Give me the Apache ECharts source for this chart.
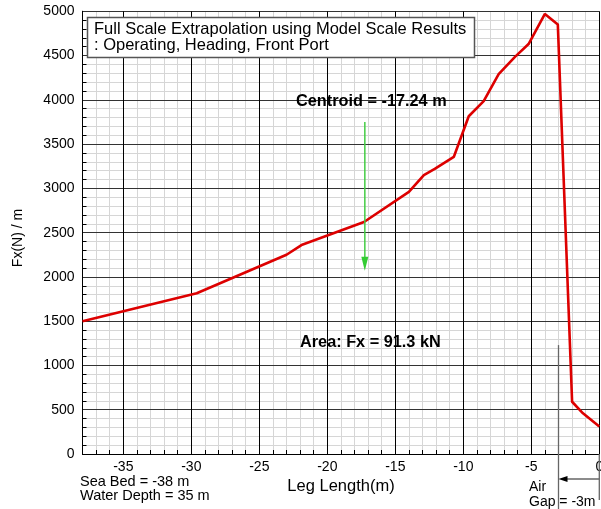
<!DOCTYPE html>
<html>
<head>
<meta charset="utf-8">
<script src="https://cdn.jsdelivr.net/npm/echarts@6/dist/echarts.min.js"></script>
<style>
html,body{margin:0;padding:0;background:#fff;}
#c{width:601px;height:509px;}
</style>
</head>
<body>
<div id="c"></div>
<script>
// ---- data ----
const legLength = [-38, -29.6, -23.0, -21.9, -17.3, -14.0, -12.9, -12.1, -10.7, -9.6, -8.5, -7.4, -6.2, -5.2, -4.0, -3.05, -2.0, -1.2, 0];
const fxValues  = [1500, 1815, 2250, 2360, 2620, 2960, 3150, 3220, 3355, 3815, 3985, 4290, 4485, 4630, 4970, 4850, 590, 460, 310];
const centroidX = -17.24;
const arrowTop = 3750;
const arrowBottom = 2070;
const airGapX = -3;
const airGapTop = 1230;
const titleLines = ['Full Scale Extrapolation using Model Scale Results', ': Operating, Heading, Front Port'];
const centroidText = 'Centroid = -17.24 m';
const areaText = 'Area: Fx = 91.3 kN';
const seaBedLines = ['Sea Bed = -38 m', 'Water Depth = 35 m'];
const airGapLines = ['Air', 'Gap = -3m'];
const xMin = -38, xMax = 0, yMin = 0, yMax = 5000;

const FONT = '"Liberation Sans", Arial, sans-serif';
const chart = echarts.init(document.getElementById('c'), null, {renderer: 'canvas'});
const data = legLength.map((x, i) => [x, fxValues[i]]);

const T = 'transparent';
const option = {
  animation: false,
  backgroundColor: '#fff',
  grid: {left: 82.5, right: 1.7, top: 11.3, bottom: 55, containLabel: false, outerBoundsMode: 'none'},
  xAxis: [
    { // minor grid
      type: 'value', min: xMin, max: xMax, interval: 1, z: 1,
      axisLine: {show: true, onZero: false, lineStyle: {color: '#000', width: 1}},
      axisTick: {show: true, inside: true, length: 4, lineStyle: {color: '#000'}},
      axisLabel: {show: false},
      splitLine: {show: true, lineStyle: {color: '#d6d6d6', width: 1}}
    },
    { // major grid + labels
      type: 'value', min: xMin, max: xMax, interval: 1, z: 3, position: 'bottom',
      axisLine: {show: true, onZero: false, lineStyle: {color: '#000', width: 1}},
      axisTick: {show: false},
      axisLabel: {
        show: true, margin: 6, color: '#000', fontSize: 14, fontFamily: FONT,
        formatter: v => (Math.round(v) % 5 === 0 ? String(Math.round(v)) : '')
      },
      splitLine: {show: true, lineStyle: {color: [T, T, T, '#000', T], width: 1}}
    }
  ],
  yAxis: [
    {
      type: 'value', min: yMin, max: yMax, interval: 100, z: 1,
      axisLine: {show: true, onZero: false, lineStyle: {color: '#000', width: 1}},
      axisTick: {show: true, inside: true, length: 4, lineStyle: {color: '#000'}},
      axisLabel: {show: false},
      splitLine: {show: true, lineStyle: {color: '#d6d6d6', width: 1}}
    },
    {
      type: 'value', min: yMin, max: yMax, interval: 100, z: 3, position: 'left',
      axisLine: {show: true, onZero: false, lineStyle: {color: '#000', width: 1}},
      axisTick: {show: false},
      axisLabel: {
        show: true, margin: 8, color: '#000', fontSize: 14, fontFamily: FONT,
        formatter: v => (Math.round(v) % 500 === 0 ? String(Math.round(v)) : '')
      },
      splitLine: {show: true, lineStyle: {color: ['#333', T, T, T, T], width: 1}}
    }
  ],
  series: [{
    type: 'line', xAxisIndex: 0, yAxisIndex: 0, data: data, z: 5,
    showSymbol: false, symbol: 'none', clip: false,
    lineStyle: {color: '#dd0000', width: 2.6}
  }]
};
chart.setOption(option);

function px(x, y) { return chart.convertToPixel({gridIndex: 0}, [x, y]); }

const aTop = px(centroidX, arrowTop);
const aBot = px(centroidX, arrowBottom);
const gTop = px(airGapX, airGapTop);
const g0 = px(airGapX, 0);
const z0 = px(0, 0);
const gapY = 479;

const graphics = [
  // title box
  {type: 'rect', shape: {x: 87.5, y: 17.5, width: 387, height: 40}, style: {fill: '#fff', stroke: '#555', lineWidth: 1.5}, z: 100},
  {type: 'text', x: 94, y: 21.5, style: {text: titleLines.join('\n'), font: '16.5px ' + FONT, fill: '#000', lineHeight: 16}, z: 101},
  // centroid
  {type: 'text', x: 296, y: 102, style: {text: centroidText, font: 'bold 16.3px ' + FONT, fill: '#000', verticalAlign: 'middle'}, z: 101},
  {type: 'text', x: 300, y: 343, style: {text: areaText, font: 'bold 16.3px ' + FONT, fill: '#000', verticalAlign: 'middle'}, z: 101},
  // green arrow
  {type: 'line', shape: {x1: aTop[0], y1: aTop[1], x2: aBot[0], y2: aBot[1] - 12}, style: {stroke: '#44cc44', lineWidth: 1.5}, z: 100},
  {type: 'polygon', shape: {points: [[aBot[0] - 3.5, aBot[1] - 14], [aBot[0] + 3.5, aBot[1] - 14], [aBot[0], aBot[1]]]}, style: {fill: '#33cc33'}, z: 100},
  // air gap
  {type: 'line', shape: {x1: gTop[0], y1: gTop[1], x2: g0[0], y2: 509}, style: {stroke: '#666', lineWidth: 1.3}, z: 100},
  {type: 'line', shape: {x1: z0[0], y1: z0[1], x2: z0[0], y2: 500}, style: {stroke: '#666', lineWidth: 1.3}, z: 100},
  {type: 'line', shape: {x1: g0[0] + 6, y1: gapY, x2: z0[0], y2: gapY}, style: {stroke: '#666', lineWidth: 1.3}, z: 100},
  {type: 'polygon', shape: {points: [[g0[0], gapY], [g0[0] + 9, gapY - 3], [g0[0] + 9, gapY + 3]]}, style: {fill: '#000'}, z: 100},
  {type: 'text', x: 529, y: 480, style: {text: airGapLines.join('\n'), font: '14px ' + FONT, fill: '#000', lineHeight: 14.5}, z: 101},
  // sea bed
  {type: 'text', x: 80, y: 475, style: {text: seaBedLines.join('\n'), font: '14.5px ' + FONT, fill: '#000', lineHeight: 14}, z: 101},
  // axis titles
  {type: 'text', x: 341, y: 486, style: {text: 'Leg Length(m)', font: '16.5px ' + FONT, fill: '#000', align: 'center', verticalAlign: 'middle'}, z: 101},
  {type: 'text', x: 18, y: 238, rotation: Math.PI / 2, style: {text: 'Fx(N) / m', font: '14px ' + FONT, fill: '#000', align: 'center', verticalAlign: 'middle'}, z: 101}
];
chart.setOption({graphic: graphics});
</script>
</body>
</html>
